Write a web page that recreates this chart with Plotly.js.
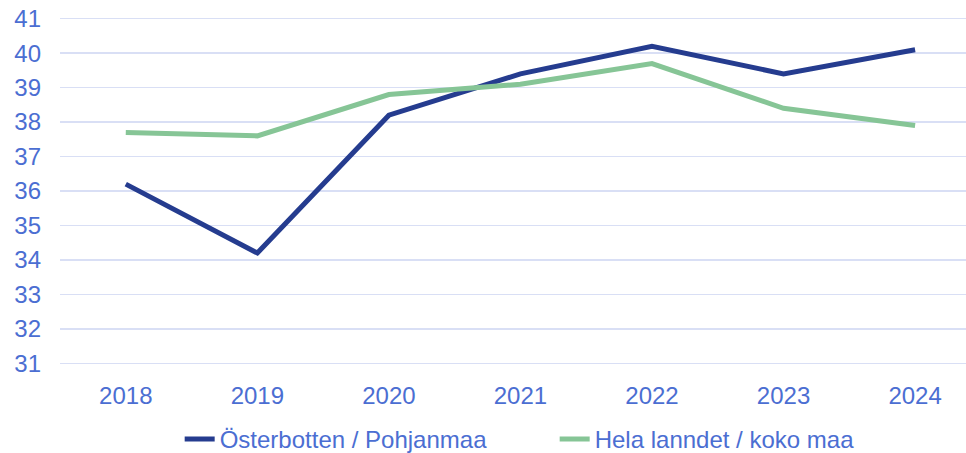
<!DOCTYPE html>
<html>
<head>
<meta charset="utf-8">
<script src="https://cdn.plot.ly/plotly-3.0.1.min.js"></script>
<style>html,body{margin:0;padding:0;background:#fff;}#chart{width:966px;height:453px;}</style>
</head>
<body>
<div id="chart"></div>
<script>
const years = ["2018", "2019", "2020", "2021", "2022", "2023", "2024"];
const osterbotten = [36.2, 34.2, 38.2, 39.4, 40.2, 39.4, 40.1];
const helaLanndet = [37.7, 37.6, 38.8, 39.1, 39.7, 38.4, 37.9];
const seriesNames = ["Österbotten / Pohjanmaa", "Hela lanndet / koko maa"];
const yTicks = [31, 32, 33, 34, 35, 36, 37, 38, 39, 40, 41];

const textColor = "#4B6ED2";
const font = {family: "Liberation Sans, Arial, sans-serif", size: 24, color: textColor};

const traces = [
  {x: years, y: osterbotten, name: seriesNames[0], type: "scatter", mode: "lines",
   line: {color: "#253C8F", width: 5}},
  {x: years, y: helaLanndet, name: seriesNames[1], type: "scatter", mode: "lines",
   line: {color: "#86C596", width: 5}}
];

const layout = {
  width: 966, height: 453,
  margin: {l: 60, r: 0, t: 17.3, b: 87.8, pad: 0, autoexpand: false},
  paper_bgcolor: "#ffffff", plot_bgcolor: "#ffffff",
  font: font,
  showlegend: true,
  legend: {orientation: "h", x: 0.546, xanchor: "center", yref: "container", y: 0.03, yanchor: "middle",
           font: font, traceorder: "normal", entrywidth: 330, entrywidthmode: "pixels"},
  xaxis: {type: "category", range: [-0.5, 6.387], showgrid: false, zeroline: false,
          showline: false, ticks: "", tickfont: font, ticklabelstandoff: 14, automargin: false},
  yaxis: {range: [30.95, 41.05], tickvals: yTicks, ticktext: yTicks.map(String),
          showgrid: true, gridcolor: "#D9DFF5", gridwidth: 1.5, zeroline: false,
          showline: false, ticks: "", tickfont: font, ticklabelstandoff: 18, automargin: false}
};

Plotly.newPlot("chart", traces, layout, {displayModeBar: false, staticPlot: true});
</script>
</body>
</html>
